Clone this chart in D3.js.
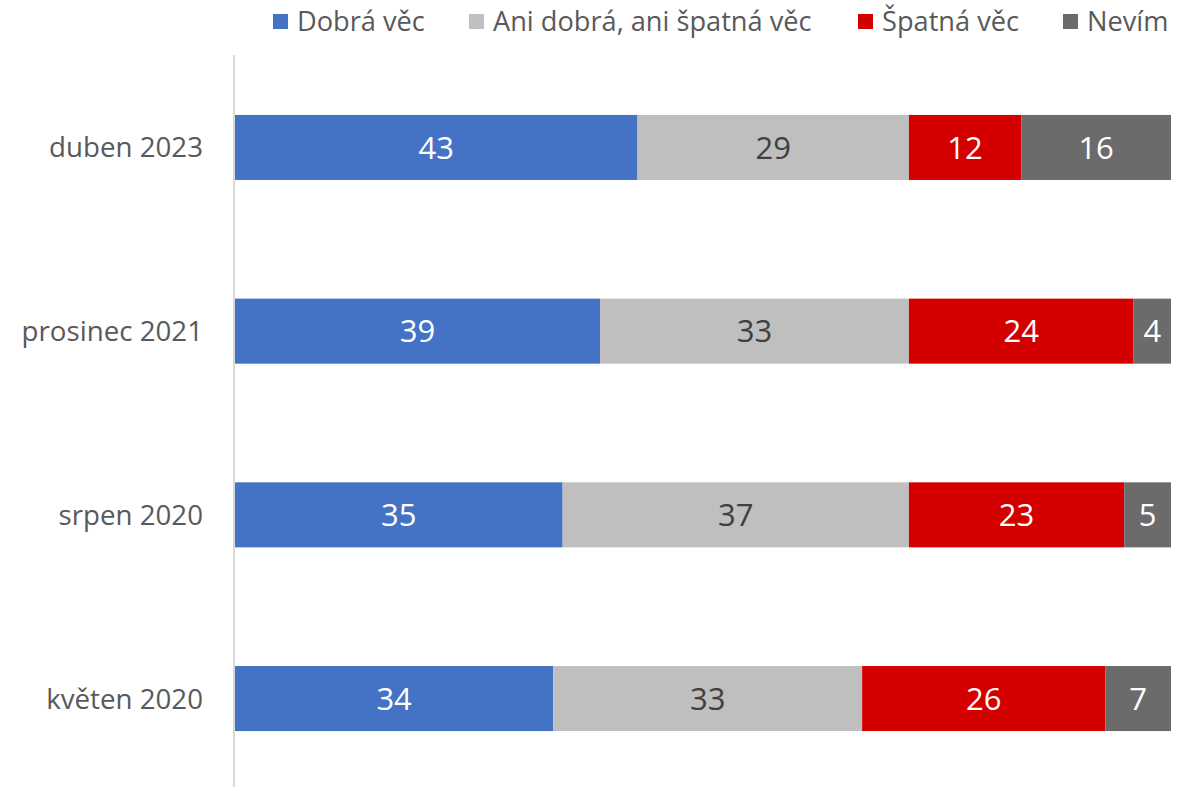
<!DOCTYPE html>
<html>
<head>
<meta charset="utf-8">
<script src="https://cdn.jsdelivr.net/npm/d3@7"></script>
<style>
  body { margin: 0; background: #fff; }
  svg { display: block; font-family: "Open Sans", sans-serif; }
</style>
</head>
<body>
<svg width="1191" height="787"></svg>
<script>
const categories = ["duben 2023", "prosinec 2021", "srpen 2020", "květen 2020"];
const seriesNames = ["Dobrá věc", "Ani dobrá, ani špatná věc", "Špatná věc", "Nevím"];
const dobra = [43, 39, 35, 34];
const ani = [29, 33, 37, 33];
const spatna = [12, 24, 23, 26];
const nevim = [16, 4, 5, 7];
const colors = ["#4472C4", "#BFBFBF", "#D40000", "#6B6B6B"];
const labelColors = ["#ffffff", "#404040", "#ffffff", "#ffffff"];

const svg = d3.select("svg");

const rows = categories.map((c, i) => ({
  cat: c, s0: dobra[i], s1: ani[i], s2: spatna[i], s3: nevim[i]
}));
const keys = ["s0", "s1", "s2", "s3"];
const stacked = d3.stack().keys(keys)(rows);

const x = d3.scaleLinear().domain([0, 100]).range([235, 1171]);
const y = d3.scaleBand().domain(categories).range([55.6, 790.4])
  .paddingInner(0.646).paddingOuter(0.323);

// bars
const groups = svg.selectAll("g.series").data(stacked).join("g")
  .attr("fill", (d, i) => colors[i]);

groups.selectAll("rect").data(d => d).join("rect")
  .attr("x", d => x(d[0]))
  .attr("y", d => y(d.data.cat))
  .attr("width", d => x(d[1]) - x(d[0]))
  .attr("height", y.bandwidth());

// value labels
stacked.forEach((s, i) => {
  svg.append("g").selectAll("text").data(s).join("text")
    .attr("x", d => (x(d[0]) + x(d[1])) / 2)
    .attr("y", d => y(d.data.cat) + y.bandwidth() / 2)
    .attr("dy", "0.36em")
    .attr("text-anchor", "middle")
    .attr("font-size", 31)
    .attr("fill", labelColors[i])
    .text(d => d[1] - d[0]);
});

// vertical axis line
svg.append("line")
  .attr("x1", 234).attr("x2", 234)
  .attr("y1", 55).attr("y2", 787)
  .attr("stroke", "#D9D9D9").attr("stroke-width", 2);

// category labels
svg.append("g").selectAll("text").data(categories).join("text")
  .attr("x", 203)
  .attr("y", d => y(d) + y.bandwidth() / 2)
  .attr("dy", "0.36em")
  .attr("text-anchor", "end")
  .attr("font-size", 27.7)
  .attr("fill", "#595959")
  .text(d => d);

// legend
const legendX = [273, 469, 858, 1063];
const legend = svg.append("g").selectAll("g").data(seriesNames).join("g")
  .attr("transform", (d, i) => `translate(${legendX[i]},0)`);
legend.append("rect")
  .attr("x", 0).attr("y", 14)
  .attr("width", 15).attr("height", 15)
  .attr("fill", (d, i) => colors[i]);
legend.append("text")
  .attr("x", 24).attr("y", 21)
  .attr("dy", "0.36em")
  .attr("font-size", 27.2)
  .attr("fill", "#595959")
  .text(d => d);
</script>
</body>
</html>
